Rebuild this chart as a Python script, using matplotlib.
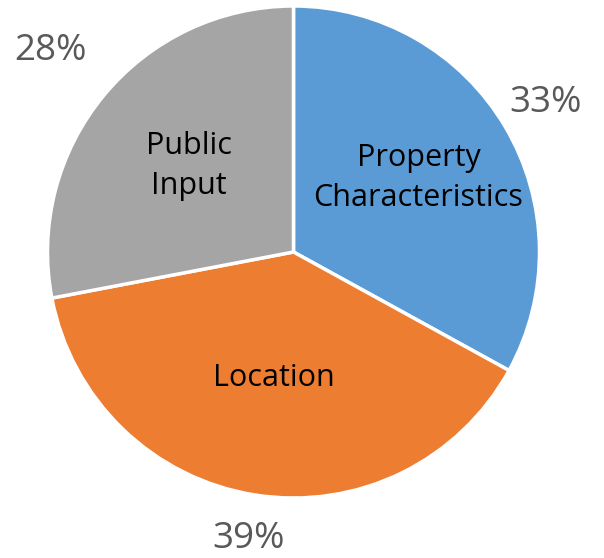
import matplotlib
matplotlib.use("Agg")
import numpy as np
import matplotlib.pyplot as plt

labels = ["Property\nCharacteristics", "Location", "Public\nInput"]
shares = [33, 39, 28]
colors = ["#5B9BD5", "#ED7D31", "#A5A5A5"]

plt.rcParams['font.family'] = ['Open Sans', 'DejaVu Sans']

fig = plt.figure(figsize=(6.04, 5.58), dpi=100)
ax = fig.add_axes([0, 0, 1, 1])

cx, cy, r = 293.5, 306, 246
wedges, texts, autotexts = ax.pie(
    shares, labels=labels, colors=colors, startangle=90, counterclock=False,
    center=(cx, cy), radius=r, frame=True,
    autopct='%d%%', pctdistance=1.2, labeldistance=0.56,
    wedgeprops=dict(edgecolor='white', linewidth=2.5),
    textprops=dict(ha='center', va='center'))
ax.set_xlim(0, 604)
ax.set_ylim(0, 558)
ax.axis('off')

# excel-like placement of labels
lab_dist = [0.59, 0.52, 0.55]
pct_dist = [1.19, 1.18, 1.28]
for w, t, a, ld, pd_ in zip(wedges, texts, autotexts, lab_dist, pct_dist):
    ang = np.deg2rad((w.theta1 + w.theta2) / 2)
    t.set_position((cx + ld * r * np.cos(ang), cy + ld * r * np.sin(ang)))
    a.set_position((cx + pd_ * r * np.cos(ang), cy + pd_ * r * np.sin(ang)))

for t in texts:
    t.set_fontsize(22)
    t.set_color('black')
    t.set_ha('center')
    t.set_linespacing(1.45)
for t in autotexts:
    t.set_fontsize(26.5)
    t.set_color('#595959')

fig.savefig('out.png', dpi=100)
